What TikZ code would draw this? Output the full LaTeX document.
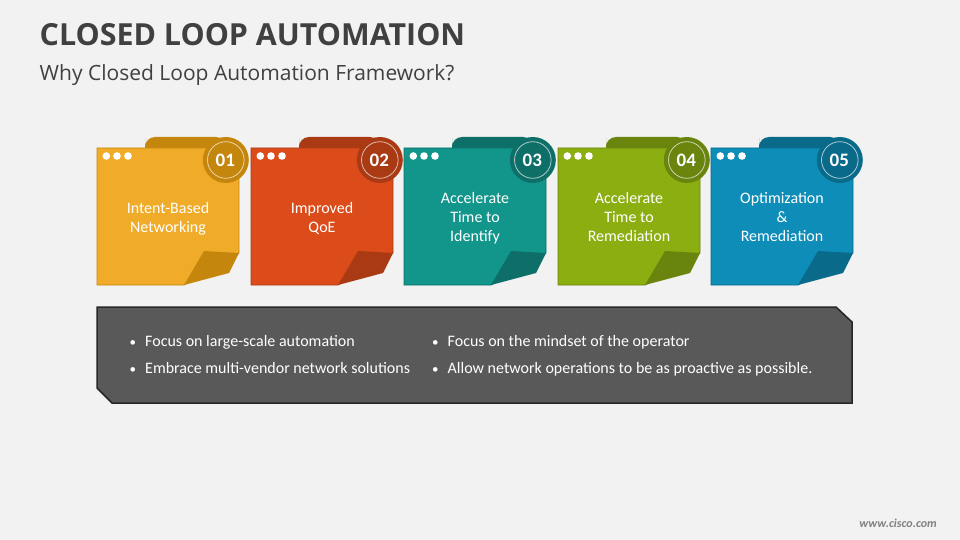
\documentclass[tikz,border=0pt]{standalone}
\usepackage{fontspec}
\setmainfont{Carlito}
\newfontfamily\headfont{Open Sans}
\definecolor{pagebg}{HTML}{F2F2F2}
\definecolor{inkgrey}{HTML}{404040}
\definecolor{cardA}{HTML}{F0AC28}
\definecolor{foldA}{HTML}{C5860D}
\definecolor{cardB}{HTML}{DC4C1A}
\definecolor{foldB}{HTML}{A93A14}
\definecolor{cardC}{HTML}{12958B}
\definecolor{foldC}{HTML}{0E6F68}
\definecolor{cardD}{HTML}{8BAE10}
\definecolor{foldD}{HTML}{6A850E}
\definecolor{cardE}{HTML}{0E8DB8}
\definecolor{foldE}{HTML}{0A6A8A}
\tikzset{
  cardtext/.style={text=white, align=center, font=\fontsize{16}{19}\selectfont},
  numtext/.style={text=white, font=\fontsize{19}{19}\selectfont\bfseries},
  pointtext/.style={text=white, anchor=west, inner sep=0pt, text height=11pt, text depth=4pt, font=\fontsize{16}{18}\selectfont},
}
\newcommand{\pointmark}{\makebox[15.5pt][l]{\fontsize{13}{13}\selectfont•}}
\begin{document}
\begin{tikzpicture}[x=1pt, y=-1pt]
\useasboundingbox (0,0) rectangle (960,540);
\fill[pagebg] (0,0) rectangle (960,540);
\node[anchor=west, inner sep=0pt, text=inkgrey, font=\headfont\fontsize{30.4}{36}\selectfont\bfseries] (title) at (39.5,35) {CLOSED LOOP AUTOMATION};
\node[anchor=west, inner sep=0pt, text=inkgrey, font=\headfont\fontsize{21}{24}\selectfont] (subtitle) at (39.5,75.5) {Why Closed Loop Automation Framework?};
% five notes
\foreach \x/\c/\f/\n/\t/\y in {
  97/cardA/foldA/01/{Intent-Based\\Networking}/218.5,
  251/cardB/foldB/02/{Improved\\QoE}/218.5,
  404/cardC/foldC/03/{Accelerate\\Time to\\Identify}/218,
  558/cardD/foldD/04/{Accelerate\\Time to\\Remediation}/217,
  711/cardE/foldE/05/{Optimization\\\&\\Remediation}/217}
{
  \begin{scope}[shift={(\x,0)}]
    \fill[\f, rounded corners=10pt] (48,148) -- (48,137) -- (129,137) -- (129,170) -- (48,170) -- cycle;
    \filldraw[fill=\c, draw=\f, line width=0.8pt] (0,148) -- (142,148) -- (142,253) -- (87,285) -- (0,285) -- cycle;
    \fill[\f] (87,285) -- (107,251) -- (142,253) -- (132,273) -- cycle;
    \foreach \d in {9.3,20,31}
      \fill[white] (\d,156) circle (3.8pt);
    \fill[\f] (128.8,160) circle (23pt);
    \draw[white!65!\f, line width=0.8pt] (128.8,160) circle (18.3pt);
    \node[numtext] (num\n) at (128.3,160) {\n};
    \node[cardtext] (label\n) at (71,\y) {\t};
  \end{scope}
}
% panel
\filldraw[fill=black!65, draw=black!85, line width=1.5pt] (97,307) -- (836,307) -- (852,322) -- (852,403) -- (112,403) -- (97,388) -- cycle;
\node[pointtext] (pointA) at (129.5,342.5) {\pointmark Focus on large-scale automation};
\node[pointtext] (pointB) at (129.5,369.5) {\pointmark Embrace multi-vendor network solutions};
\node[pointtext] (pointC) at (432,342.5) {\pointmark Focus on the mindset of the operator};
\node[pointtext] (pointD) at (432,369.5) {\pointmark Allow network operations to be as proactive as possible.};
\node[anchor=east, inner sep=0pt, text=black!50, font=\fontsize{12}{14}\selectfont\bfseries\itshape] (site) at (937,523) {www.cisco.com};
\end{tikzpicture}
\end{document}
